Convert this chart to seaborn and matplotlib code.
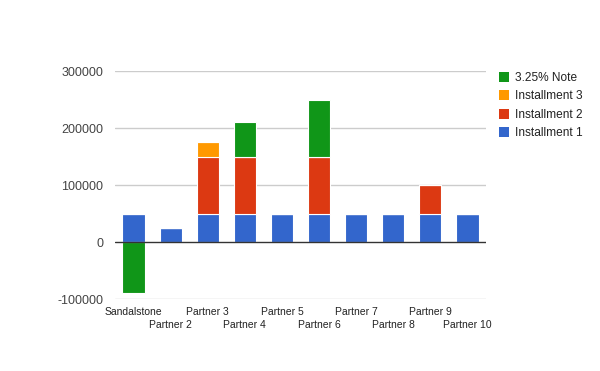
import matplotlib
matplotlib.use("Agg")
import matplotlib.pyplot as plt
import seaborn as sns
import numpy as np
import pandas as pd
from matplotlib.patches import Patch

categories = ["Sandalstone", "Partner 2", "Partner 3", "Partner 4", "Partner 5",
              "Partner 6", "Partner 7", "Partner 8", "Partner 9", "Partner 10"]
installment_1 = [50000, 25000, 50000, 50000, 50000, 50000, 50000, 50000, 50000, 50000]
installment_2 = [0, 0, 100000, 100000, 0, 100000, 0, 0, 50000, 0]
installment_3 = [0, 0, 25000, 0, 0, 0, 0, 0, 0, 0]
note_325 = [-88000, 0, 0, 60000, 0, 100000, 0, 0, 0, 0]
y_ticks = [-100000, 0, 100000, 200000, 300000]

series = [("Installment 1", installment_1, "#3366CC"),
          ("Installment 2", installment_2, "#DC3912"),
          ("Installment 3", installment_3, "#FF9900"),
          ("3.25% Note", note_325, "#109618")]

sns.set_theme(style="white")
plt.rcParams['font.family'] = ['Liberation Sans', 'DejaVu Sans']

fig = plt.figure(figsize=(6, 3.71), dpi=100)
ax = fig.add_axes([0.1917, 0.193, 0.81 - 0.1917, 0.8086 - 0.193])

pos = np.zeros(len(categories))
neg = np.zeros(len(categories))
for name, vals, color in series:
    v = np.array(vals, dtype=float)
    bottoms = np.where(v >= 0, pos, neg)
    ax.bar(np.arange(len(categories)), v, bottom=bottoms, width=0.6,
           color=color, edgecolor="white", linewidth=0.8, zorder=3)
    pos = pos + np.where(v > 0, v, 0)
    neg = neg + np.where(v < 0, v, 0)

sns.despine(ax=ax, left=True, bottom=True, top=True, right=True)

ax.set_xlim(-0.5, len(categories) - 0.5)
ax.set_ylim(min(y_ticks), max(y_ticks))
ax.set_yticks(y_ticks)
ax.set_yticklabels([str(t) for t in y_ticks])
ax.tick_params(axis="y", length=0, pad=8.5, labelsize=9, labelcolor="#444444")

idx = np.arange(len(categories))
ax.set_xticks(idx[0::2])
ax.set_xticklabels(categories[0::2], fontsize=7.5, color="#222222")
ax.set_xticks(idx[1::2], minor=True)
ax.set_xticklabels(categories[1::2], minor=True, fontsize=7.5, color="#222222")
ax.tick_params(axis="x", which="major", length=0, pad=5.5)
ax.tick_params(axis="x", which="minor", length=0, pad=14.8)

for yv in y_ticks:
    if yv != 0:
        ax.axhline(yv, color="#CCCCCC", linewidth=1, zorder=1)
ax.axhline(0, color="#333333", linewidth=1, zorder=4)
ax.grid(False)

handles = [Patch(facecolor=c, edgecolor="none", label=n) for n, _, c in series[::-1]]
leg = fig.legend(handles=handles, loc="upper left", bbox_to_anchor=(0.822, 0.823),
                 frameon=False, fontsize=8.6, handlelength=0.85, handleheight=0.95,
                 handletextpad=0.45, labelspacing=0.52, borderpad=0)
for t in leg.get_texts():
    t.set_color("#222222")

fig.savefig("out.png", dpi=100)
